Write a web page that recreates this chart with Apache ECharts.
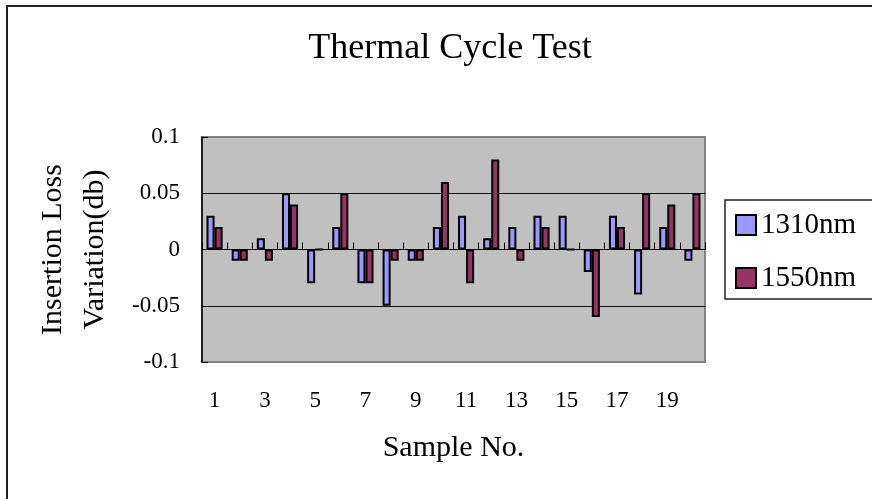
<!DOCTYPE html>
<html>
<head>
<meta charset="utf-8">
<script src="https://cdn.jsdelivr.net/npm/echarts@6/dist/echarts.min.js"></script>
<style>
  html, body { margin: 0; padding: 0; background: #fff; }
  #chart { width: 872px; height: 499px; }
</style>
</head>
<body>
<div id="chart"></div>
<script>
var samples = ["1", "2", "3", "4", "5", "6", "7", "8", "9", "10",
               "11", "12", "13", "14", "15", "16", "17", "18", "19", "20"];
var loss1310 = [0.03, -0.01, 0.01, 0.05, -0.03, 0.02, -0.03, -0.05, -0.01, 0.02,
                0.03, 0.01, 0.02, 0.03, 0.03, -0.02, 0.03, -0.04, 0.02, -0.01];
var loss1550 = [0.02, -0.01, -0.01, 0.04, 0, 0.05, -0.03, -0.01, -0.01, 0.06,
                -0.03, 0.08, -0.01, 0.02, 0, -0.06, 0.02, 0.05, 0.04, 0.05];

var font = '"Liberation Serif", "Times New Roman", serif';
var chart = echarts.init(document.getElementById("chart"));

var option = {
  backgroundColor: "#fff",
  animation: false,
  textStyle: { fontFamily: font, color: "#000" },
  // outer chart frame
  graphic: [{
    type: "rect",
    z: -1,
    shape: { x: 7, y: 6, width: 900, height: 600 },
    style: { fill: "none", stroke: "#222", lineWidth: 2 }
  }],
  title: {
    text: "Thermal Cycle Test",
    left: 445,
    top: 26,
    textAlign: "center",
    textStyle: { fontFamily: font, fontSize: 36, fontWeight: "normal", color: "#000" }
  },
  legend: {
    orient: "vertical",
    left: 725,
    top: 200,
    padding: [10, 24, 6, 10],
    itemGap: 23,
    itemWidth: 20,
    itemHeight: 20,
    itemTextGap: 10,
    icon: "rect",
    borderColor: "#222",
    borderWidth: 1.5,
    textStyle: { fontFamily: font, fontSize: 29, lineHeight: 30, color: "#000" },
    data: ["1310nm", "1550nm"]
  },
  grid: {
    left: 202,
    right: 167,
    top: 137,
    bottom: 137,
    show: true,
    backgroundColor: "#c0c0c0",
    borderColor: "#808080",
    borderWidth: 2
  },
  xAxis: [{
    type: "category",
    data: samples,
    position: "bottom",
    name: "Sample No.",
    nameLocation: "middle",
    nameGap: 71,
    nameTextStyle: { fontFamily: font, fontSize: 30, color: "#000" },
    axisLine: { show: false, onZero: false },
    axisTick: { show: false },
    axisLabel: { interval: 1, margin: 27, fontFamily: font, fontSize: 23, color: "#000" }
  }, {
    // zero line with its category ticks
    type: "category",
    data: samples,
    position: "bottom",
    axisLine: { show: true, onZero: true, lineStyle: { color: "#000", width: 1 } },
    axisTick: { show: true, inside: true, length: 7, lineStyle: { color: "#000" } },
    axisLabel: { show: false }
  }],
  yAxis: {
    type: "value",
    min: -0.1,
    max: 0.1,
    interval: 0.05,
    name: "Insertion Loss\nVariation(db)",
    nameLocation: "middle",
    nameGap: 86,
    nameTextStyle: { fontFamily: font, fontSize: 30, lineHeight: 42, color: "#000" },
    axisLine: { show: true, lineStyle: { color: "#000", width: 1.5 } },
    axisTick: { show: true, inside: true, length: 6, lineStyle: { color: "#000" } },
    axisLabel: { margin: 22, fontFamily: font, fontSize: 23, color: "#000" },
    splitLine: {
      show: true,
      lineStyle: { color: ["#808080", "#111", "#111", "#111", "#808080"], width: 1 }
    }
  },
  series: [{
    name: "1310nm",
    type: "bar",
    xAxisIndex: 0,
    data: loss1310,
    barGap: 0,
    barCategoryGap: "36%",
    itemStyle: { color: "#9999ff", borderColor: "#000", borderWidth: 2 }
  }, {
    name: "1550nm",
    type: "bar",
    xAxisIndex: 0,
    data: loss1550,
    barGap: 0,
    barCategoryGap: "36%",
    itemStyle: { color: "#993366", borderColor: "#000", borderWidth: 2 }
  }]
};

chart.setOption(option);
</script>
</body>
</html>
